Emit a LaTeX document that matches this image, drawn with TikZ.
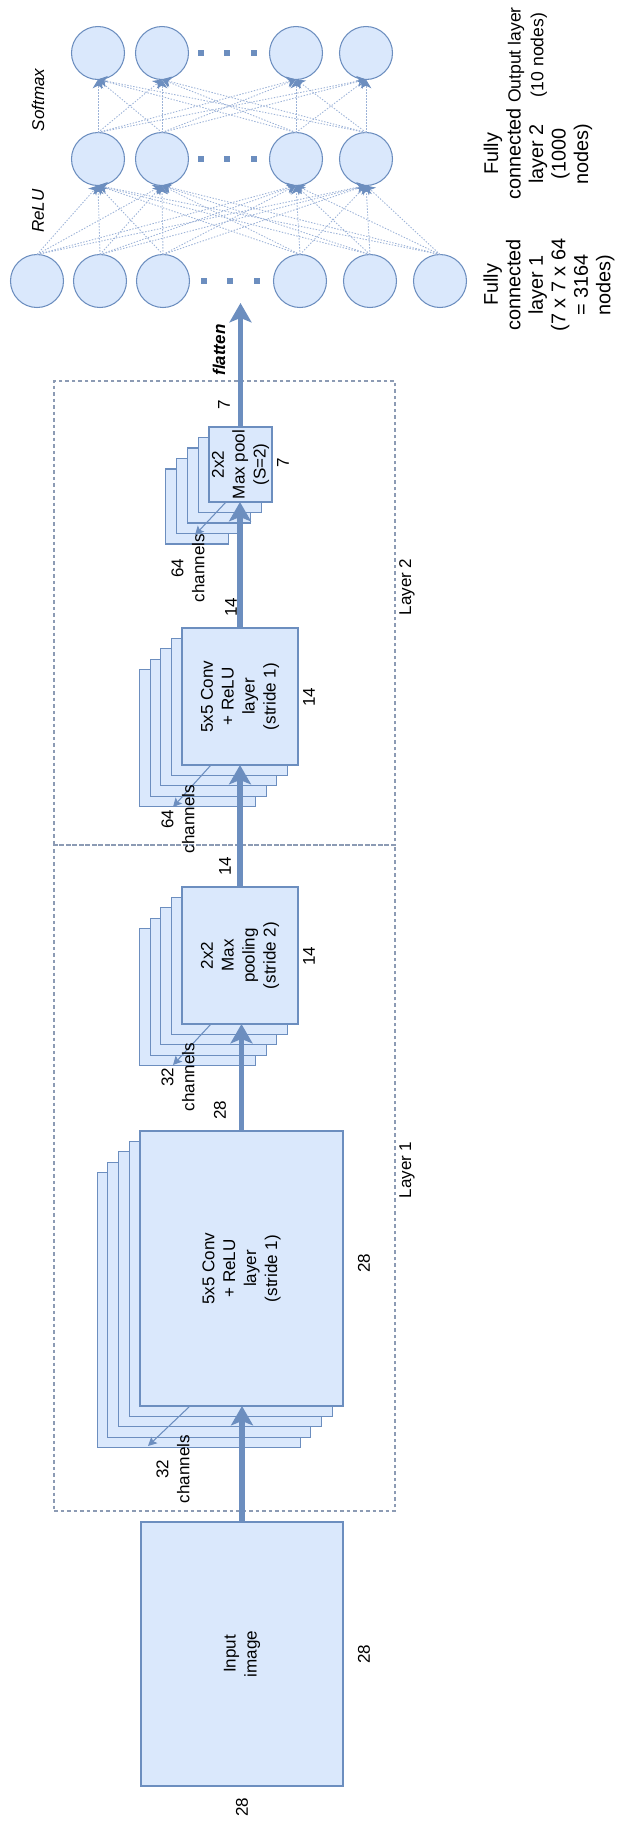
\documentclass[tikz,border=0pt]{standalone}
\usepackage{fontspec}
\setmainfont{Liberation Sans}
\usetikzlibrary{arrows.meta,calc}
\definecolor{bfill}{HTML}{DAE8FC}
\definecolor{bline}{HTML}{6C8EBF}
\definecolor{dashc}{HTML}{8C9BB4}
\definecolor{connc}{HTML}{9DB3D8}
\newcommand\pxu{0.02cm}
\newcommand\normtext{\fontsize{9.7}{11.9}\selectfont}
\newcommand\bigtext{\fontsize{11.3}{12.8}\selectfont}
\newcommand\outtext{\fontsize{10}{13}\selectfont}
\begin{document}
\begin{tikzpicture}[x=0.02cm,y=-0.02cm,
  box/.style={draw=bline, fill=bfill, line width=0.6pt, rotate=90, inner sep=0pt, outer sep=0pt, align=center, font=\normtext},
  frame/.style={draw=dashc, line width=0.6pt, dash pattern=on 2pt off 1.7pt, inner sep=0pt, outer sep=0pt},
  lbl/.style={rotate=90, inner sep=0pt, align=center, font=\normtext},
  biglbl/.style={rotate=90, inner sep=0pt, align=center, font=\bigtext},
  neuron/.style={circle, draw=bline, fill=bfill, line width=0.6pt, minimum size=53*\pxu, inner sep=0pt, outer sep=0pt},
  dotsq/.style={rectangle, fill=bline, minimum size=5.5*\pxu, inner sep=0pt},
  mainarr/.style={draw=bline, line width=3pt, -{Stealth[length=11pt,width=12.5pt,inset=2.5pt]}},
  charr/.style={draw=bline, line width=0.6pt, -{Stealth[length=5pt,width=5pt,inset=1pt]}},
  conn/.style={draw=connc, line width=0.5pt, dash pattern=on 0.8pt off 0.9pt, -{Stealth[length=5pt,width=6pt,inset=1.5pt,color=bline]}}
]
\useasboundingbox (0,0) rectangle (617,1823);

% layer frames
\node[frame, minimum width=341*\pxu, minimum height=464*\pxu] (L2) at (224.5,613) {};
\node[frame, minimum width=341*\pxu, minimum height=666*\pxu] (L1) at (224.5,1178) {};
\node[lbl] (L2t) at (407,587) {Layer 2};
\node[lbl] (L1t) at (407,1170) {Layer 1};

% input
\node[box, minimum width=264*\pxu, minimum height=202*\pxu] (in) at (242,1654) {Input\\image};

% conv1 stack
\foreach \i in {4,3,2,1} {
  \node[box, minimum width=275*\pxu, minimum height=203*\pxu] (c1b\i) at ({241.5-10.7*\i},{1268.5+10.4*\i}) {};
}
\node[box, minimum width=275*\pxu, minimum height=203*\pxu] (c1) at (241.5,1268.5) {5x5 Conv\\+ ReLU\\layer\\(stride 1)};

% pool1 stack
\foreach \i in {4,3,2,1} {
  \node[box, minimum width=137*\pxu, minimum height=116*\pxu] (p1b\i) at ({240-10.6*\i},{955.5+10.4*\i}) {};
}
\node[box, minimum width=137*\pxu, minimum height=116*\pxu] (p1) at (240,955.5) {2x2\\Max\\pooling\\(stride 2)};

% conv2 stack
\foreach \i in {4,3,2,1} {
  \node[box, minimum width=137*\pxu, minimum height=116*\pxu] (c2b\i) at ({240-10.6*\i},{696.5+10.4*\i}) {};
}
\node[box, minimum width=137*\pxu, minimum height=116*\pxu] (c2) at (240,696.5) {5x5 Conv\\+ ReLU\\layer\\(stride 1)};

% maxpool2 stack
\foreach \i in {4,3,2,1} {
  \node[box, minimum width=75*\pxu, minimum height=63*\pxu] (mpb\i) at ({240.5-10.8*\i},{464.5+10.5*\i}) {};
}
\node[box, minimum width=75*\pxu, minimum height=63*\pxu] (mp) at (240.5,464.5) {2x2\\Max pool\\(S=2)};

% fully connected layers
\foreach \n/\x in {1/98,2/162,3/296,4/366} {
  \node[neuron] (o\n) at (\x,53) {};
  \node[neuron] (h\n) at (\x,159) {};
}
\foreach \n/\x in {1/37,2/100,3/163,4/300,5/370,6/440} {
  \node[neuron] (f\n) at (\x,281) {};
}
\foreach \n/\x in {1/201,2/227,3/254} {
  \node[dotsq] (od\n) at (\x,53) {};
  \node[dotsq] (hd\n) at (\x,159) {};
}
\foreach \n/\x in {1/204,2/230,3/257} {
  \node[dotsq] (fd\n) at (\x,281) {};
}
\foreach \a in {1,...,6} {
  \foreach \b in {1,...,4} {
    \draw[conn] (f\a.north) -- (h\b.south);
  }
}
\foreach \a in {1,...,4} {
  \foreach \b in {1,...,4} {
    \draw[conn] (h\a.north) -- (o\b.south);
  }
}
\node[lbl, font=\normtext\itshape] (sm) at (38,100) {Softmax};
\node[lbl, font=\normtext\itshape] (relu) at (38,211) {ReLU};
\node[biglbl, font=\outtext] (olab) at (527.5,55) {Output layer\\(10 nodes)};
\node[biglbl] (h2lab) at (538,154) {Fully\\connected\\layer 2\\(1000\\nodes)};
\node[biglbl] (h1lab) at (549,285) {Fully\\connected\\layer 1\\(7 x 7 x 64\\= 3164\\nodes)};

% main arrows
\coordinate (fctgt) at (240.5,303);
\draw[mainarr] (in.east) -- (in.east |- c1.west);
\draw[mainarr] (c1.east) -- (c1.east |- p1.west);
\draw[mainarr] (p1.east) -- (p1.east |- c2.west);
\draw[mainarr] (c2.east) -- (c2.east |- mp.west);
\draw[mainarr] (mp.east) -- (mp.east |- fctgt);

% channel arrows
\coordinate (c1ch) at (148,1446);
\coordinate (p1ch) at (173,1065);
\coordinate (c2ch) at (173,807);
\coordinate (mpch) at (195,535);
\draw[charr] ($(c1.north west)+(50,0)$) -- (c1ch);
\draw[charr] ($(p1.north west)+(29,0)$) -- (p1ch);
\draw[charr] ($(c2.north west)+(29,0)$) -- (c2ch);
\draw[charr] ($(mp.north west)+(17,0)$) -- (mpch);

% labels
\node[lbl] (ch1) at (173,1469) {32\\channels};
\node[lbl] (ch2) at (178,1077) {32\\channels};
\node[lbl] (ch3) at (178,819) {64\\channels};
\node[lbl] (ch4) at (188,568) {64\\channels};
\node[lbl, font=\normtext\bfseries\itshape] (flat) at (219,350) {flatten};
\node[lbl] (d1) at (224,405) {7};
\node[lbl] (d2) at (283,463) {7};
\node[lbl] (d3) at (231,607) {14};
\node[lbl] (d4) at (309,697) {14};
\node[lbl] (d5) at (225,866) {14};
\node[lbl] (d6) at (309,956) {14};
\node[lbl] (d7) at (220,1110) {28};
\node[lbl] (d8) at (364,1263) {28};
\node[lbl] (d9) at (364,1654) {28};
\node[lbl] (d10) at (242,1807) {28};
\end{tikzpicture}
\end{document}
